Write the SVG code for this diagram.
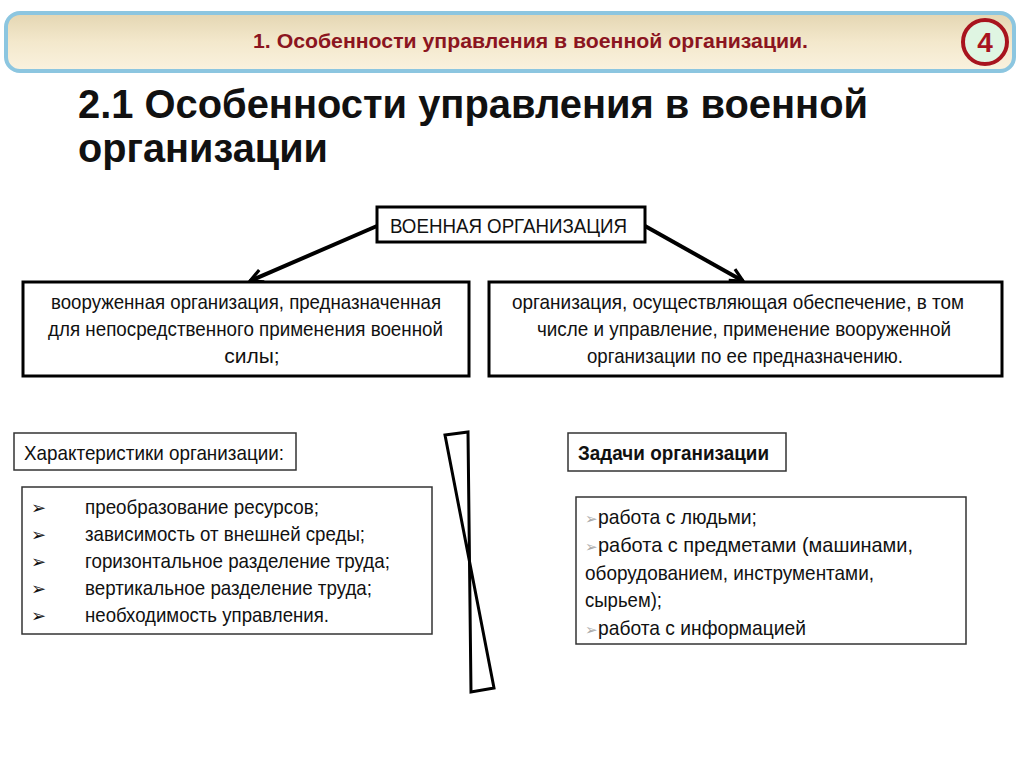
<svg xmlns="http://www.w3.org/2000/svg" width="1024" height="767" viewBox="0 0 1024 767">
<defs>
<linearGradient id="hdr" x1="0" y1="0" x2="0" y2="1">
<stop offset="0" stop-color="#e4d6b2"/>
<stop offset="0.5" stop-color="#f3e8cc"/>
<stop offset="1" stop-color="#faf2df"/>
</linearGradient>
<marker id="ah" viewBox="0 0 10 10" refX="9" refY="5" markerWidth="4" markerHeight="4" orient="auto" markerUnits="strokeWidth">
<path d="M1,1 L9,5 L1,9" fill="none" stroke="#000" stroke-width="2"/>
</marker>
</defs>
<style>
.n{font-family:"Liberation Sans",Arial,sans-serif;fill:#111}
.box{fill:#fff;stroke:#000;stroke-width:3}
.thin{fill:#fff;stroke:#333;stroke-width:1.5}
.t20{font-size:21px}
.conn{stroke:#000;stroke-width:4;fill:none}
.bul{fill:#aaa;font-size:15px}
.bk{font-size:18px}
</style>
<rect width="1024" height="767" fill="#fff"/>
<g id="header">
<rect x="6" y="13" width="1008" height="58" rx="14" fill="url(#hdr)" stroke="#8cc6e0" stroke-width="4"/>
<text class="n" x="253" y="48" font-size="20" font-weight="bold" style="fill:#8b1520" textLength="555" lengthAdjust="spacingAndGlyphs">1. Особенности управления в военной организации.</text>
<circle cx="985" cy="42" r="22" fill="#dff5e2" stroke="#a8141e" stroke-width="4"/>
<text class="n" x="985" y="52" text-anchor="middle" font-size="28" font-weight="bold" style="fill:#a8141e">4</text>
</g>
<g id="title">
<text class="n" x="78" y="118" font-size="41" font-weight="bold" textLength="790" lengthAdjust="spacingAndGlyphs">2.1 Особенности управления в военной</text>
<text class="n" x="78" y="162" font-size="41" font-weight="bold" textLength="250" lengthAdjust="spacingAndGlyphs">организации</text>
</g>
<g id="connectors">
<line class="conn" x1="377" y1="226" x2="250" y2="281" marker-end="url(#ah)"/>
<line class="conn" x1="645" y1="226" x2="743" y2="281" marker-end="url(#ah)"/>
<polygon points="445,435 468,432 471,692 494,688" fill="none" stroke="#000" stroke-width="3" stroke-linejoin="miter"/>
</g>
<g id="root">
<rect class="box" x="377" y="207" width="268" height="35"/>
<text class="n" x="390" y="233" font-size="20" textLength="237" lengthAdjust="spacingAndGlyphs">ВОЕННАЯ ОРГАНИЗАЦИЯ</text>
</g>
<g id="armed">
<rect class="box" x="23" y="282" width="446" height="94"/>
<g class="n t20">
<text x="51" y="309" textLength="390" lengthAdjust="spacingAndGlyphs">вооруженная организация, предназначенная</text>
<text x="48" y="336" textLength="395" lengthAdjust="spacingAndGlyphs">для непосредственного применения военной</text>
<text x="252" y="363" text-anchor="middle">силы;</text>
</g>
</g>
<g id="support">
<rect class="box" x="489" y="282" width="513" height="94"/>
<g class="n t20">
<text x="512" y="309" textLength="452" lengthAdjust="spacingAndGlyphs">организация, осуществляющая обеспечение, в том</text>
<text x="537" y="336" textLength="414" lengthAdjust="spacingAndGlyphs">числе и управление, применение вооруженной</text>
<text x="587" y="363" textLength="316" lengthAdjust="spacingAndGlyphs">организации по ее предназначению.</text>
</g>
</g>
<g id="char-head">
<rect class="thin" x="14" y="433" width="282" height="37"/>
<text class="n t20" x="24" y="460" textLength="260" lengthAdjust="spacingAndGlyphs">Характеристики организации:</text>
</g>
<g id="char-list">
<rect class="thin" x="22" y="487" width="410" height="147"/>
<g class="n t20">
<text class="bk" x="31" y="514">➢</text><text x="85" y="514" textLength="234" lengthAdjust="spacingAndGlyphs">преобразование ресурсов;</text>
<text class="bk" x="31" y="541">➢</text><text x="85" y="541" textLength="280" lengthAdjust="spacingAndGlyphs">зависимость от внешней среды;</text>
<text class="bk" x="31" y="568">➢</text><text x="85" y="568" textLength="305" lengthAdjust="spacingAndGlyphs">горизонтальное разделение труда;</text>
<text class="bk" x="31" y="595">➢</text><text x="85" y="595" textLength="287" lengthAdjust="spacingAndGlyphs">вертикальное разделение труда;</text>
<text class="bk" x="31" y="622">➢</text><text x="85" y="622" textLength="244" lengthAdjust="spacingAndGlyphs">необходимость управления.</text>
</g>
</g>
<g id="tasks-head">
<rect class="thin" x="568" y="433" width="218" height="38"/>
<text class="n t20" x="578" y="460" font-weight="bold" textLength="191" lengthAdjust="spacingAndGlyphs">Задачи организации</text>
</g>
<g id="tasks-list">
<rect class="thin" x="576" y="497" width="390" height="147"/>
<g class="n t20">
<text class="bul" x="585" y="524">➢</text><text x="598" y="524" textLength="159" lengthAdjust="spacingAndGlyphs">работа с людьми;</text>
<text class="bul" x="585" y="552">➢</text><text x="598" y="552" textLength="315" lengthAdjust="spacingAndGlyphs">работа с предметами (машинами,</text>
<text x="585" y="580" textLength="289" lengthAdjust="spacingAndGlyphs">оборудованием, инструментами,</text>
<text x="585" y="607" textLength="77" lengthAdjust="spacingAndGlyphs">сырьем);</text>
<text class="bul" x="585" y="635">➢</text><text x="598" y="635" textLength="208" lengthAdjust="spacingAndGlyphs">работа с информацией</text>
</g>
</g>
</svg>
